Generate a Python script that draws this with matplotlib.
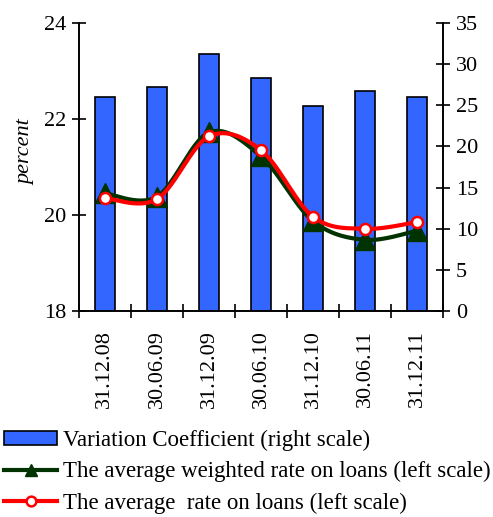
import numpy as np
import matplotlib
matplotlib.use("Agg")
import matplotlib.pyplot as plt
from matplotlib.lines import Line2D
from matplotlib.patches import Patch

categories = ["31.12.08", "30.06.09", "31.12.09", "30.06.10", "31.12.10", "30.06.11", "31.12.11"]
variation_coef = [26.0, 27.3, 31.2, 28.3, 24.9, 26.8, 26.0]
weighted_rate = [20.45, 20.38, 21.72, 21.22, 19.87, 19.48, 19.67]
average_rate = [20.35, 20.33, 21.64, 21.35, 19.96, 19.71, 19.85]

plt.rcParams['font.family'] = ['Liberation Serif', 'DejaVu Serif']
FS = 16


def smooth(xs, ys, n=30):
    """Catmull-Rom style smoothing of a polyline for display (like Excel smoothed lines)."""
    xs = np.asarray(xs, float)
    ys = np.asarray(ys, float)
    px = np.concatenate([[xs[0]], xs, [xs[-1]]])
    py = np.concatenate([[ys[0]], ys, [ys[-1]]])
    ox, oy = [], []
    for i in range(1, len(px) - 2):
        p0 = np.array([px[i - 1], py[i - 1]])
        p1 = np.array([px[i], py[i]])
        p2 = np.array([px[i + 1], py[i + 1]])
        p3 = np.array([px[i + 2], py[i + 2]])
        c1 = p1 + (p2 - p0) / 6.0
        c2 = p2 - (p3 - p1) / 6.0
        t = np.linspace(0, 1, n)[:, None]
        pts = ((1 - t) ** 3) * p1 + 3 * ((1 - t) ** 2) * t * c1 + 3 * (1 - t) * t ** 2 * c2 + t ** 3 * p2
        ox.extend(pts[:, 0])
        oy.extend(pts[:, 1])
    return np.array(ox), np.array(oy)


fig = plt.figure(figsize=(4.93, 5.17), dpi=100)
ax = fig.add_axes([0.160, 0.399, 0.739, 0.556])
ax2 = ax.twinx()

x = np.arange(len(categories))

# bars on the right scale (ax2), lines on left scale (ax) drawn above
ax2.bar(x, variation_coef, width=0.38, color='#3366FF', edgecolor='black', linewidth=1.2, zorder=1)
ax2.set_ylim(0, 35)
ax2.set_yticks(np.arange(0, 36, 5))

ax.set_zorder(ax2.get_zorder() + 1)
ax.patch.set_visible(False)

sx, sy = smooth(x, weighted_rate)
ax.plot(sx, sy, color='#003300', lw=3, solid_capstyle='round', zorder=3)
ax.plot(x, weighted_rate, ls='none', marker='^', ms=15, color='#003300', zorder=4)
sx, sy = smooth(x, average_rate)
ax.plot(sx, sy, color='#FF0000', lw=3, solid_capstyle='round', zorder=5)
ax.plot(x, average_rate, ls='none', marker='o', ms=8, mfc='white', mec='#FF0000', mew=1.8, zorder=6)

ax.set_ylim(18, 24)
ax.set_yticks(np.arange(18, 25, 2))
ax.set_xlim(-0.5, len(categories) - 0.5)

# category boundary ticks and centered labels
ax.set_xticks(np.arange(-0.5, len(categories), 1.0))
ax.set_xticklabels([])
ax.set_xticks(x, minor=True)
ax.set_xticklabels(categories, minor=True, rotation=90, fontsize=FS)
ax.tick_params(axis='x', which='minor', length=0, pad=14)
ax.tick_params(axis='x', which='major', direction='inout', length=10, width=1.2)
ax.tick_params(axis='y', direction='inout', length=10, width=1.2, labelsize=FS, pad=4)
ax2.tick_params(axis='y', direction='inout', length=10, width=1.2, labelsize=FS, pad=4)

for a in (ax, ax2):
    a.spines['top'].set_visible(False)
    for s in ('left', 'right', 'bottom'):
        a.spines[s].set_linewidth(1.2)

ax.set_ylabel('percent', fontsize=FS, style='italic')
ax.yaxis.set_label_coords(-0.12, 0.55)

handles = [
    Patch(facecolor='#3366FF', edgecolor='black', linewidth=1.2),
    Line2D([], [], color='#003300', lw=3, marker='^', ms=9),
    Line2D([], [], color='#FF0000', lw=3, marker='o', ms=7, mfc='white', mec='#FF0000', mew=1.8),
]
labels = [
    'Variation Coefficient (right scale)',
    'The average weighted rate on loans (left scale)',
    'The average  rate on loans (left scale)',
]
fig.legend(handles, labels, loc='lower left', bbox_to_anchor=(-0.002, -0.003), frameon=False,
           fontsize=16.5, handlelength=2.35, handleheight=0.6, handletextpad=0.25, labelspacing=0.45,
           borderaxespad=0.0, borderpad=0.2)

fig.savefig('out.png', dpi=100)
